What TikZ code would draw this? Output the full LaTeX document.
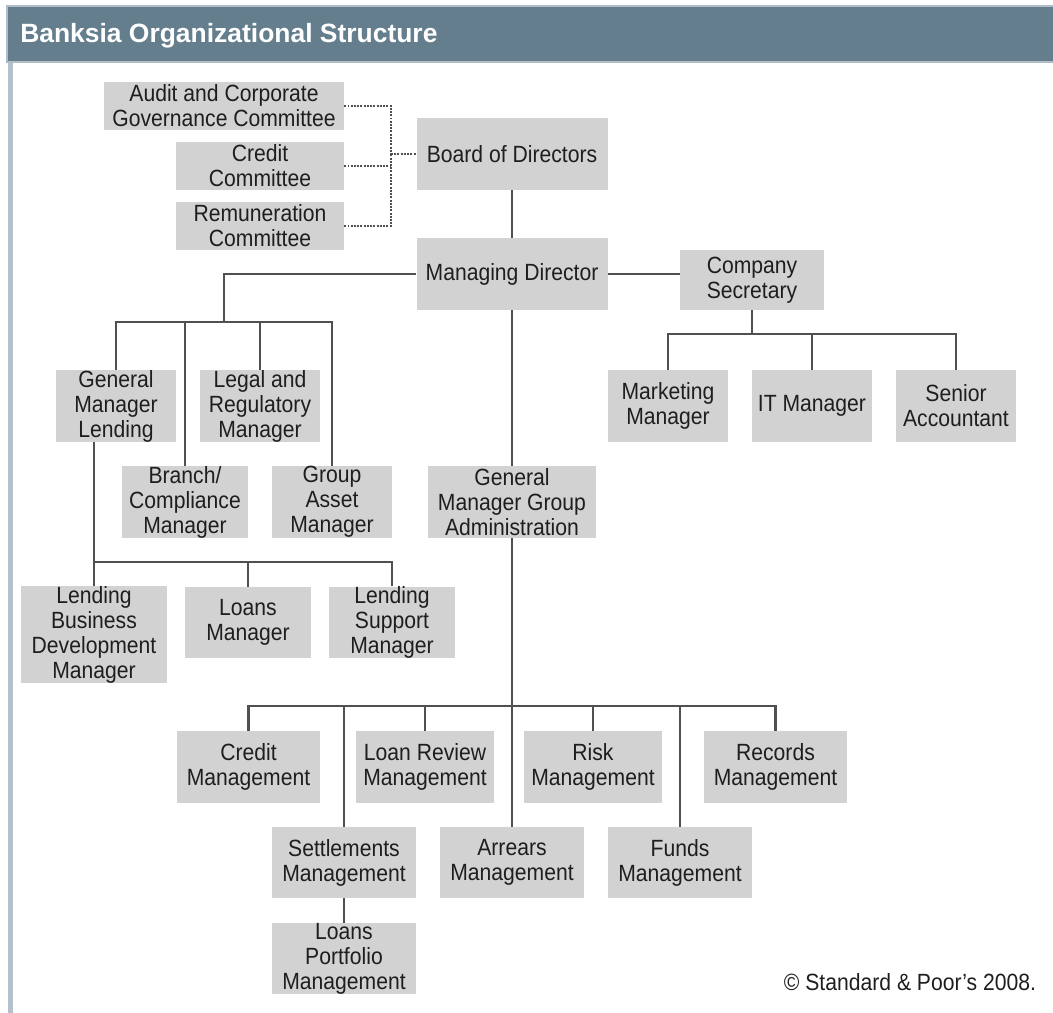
\documentclass[tikz,border=0pt]{standalone}
\usepackage{fontspec}
\setmainfont{Liberation Sans}[FakeStretch=0.9]
\newfontfamily\titlefont{Liberation Sans}
\usetikzlibrary{calc}

\definecolor{headerblue}{RGB}{100,126,142}
\definecolor{headeredge}{RGB}{176,188,198}
\definecolor{framegrey}{RGB}{180,192,204}
\definecolor{boxgrey}{RGB}{210,210,210}
\definecolor{linegrey}{RGB}{80,80,80}
\definecolor{textgrey}{RGB}{30,30,30}

\begin{document}
\begin{tikzpicture}[
    x=0.025cm,
    y=-0.025cm,
    unit/.style={
        fill=boxgrey,
        text=textgrey,
        inner sep=0pt,
        align=center,
        font=\fontsize{16.7}{17.8}\selectfont
    },
    box size/.style 2 args={
        minimum width=#1*0.025cm,
        minimum height=#2*0.025cm
    },
    link/.style={
        draw=linegrey,
        line width=1.8pt
    },
    committee link/.style={
        draw=linegrey,
        line width=1.8pt,
        dash pattern=on 1.4pt off 0.9pt
    },
    ]
    \useasboundingbox (0,0) rectangle (1053,1013);
    % heading and frame
    \fill[framegrey] (8,62) rectangle (12.7,1013);
    \filldraw[fill=headerblue, draw=headeredge, line width=1pt] (7,6) rectangle (1060,62);
    \node[anchor=base west, text=white, inner sep=0pt,
        font=\titlefont\bfseries\fontsize{18.8}{22}\selectfont] (title) at (20,42)
        {Banksia Organizational Structure};

    % board and committees
    \node[unit, box size={240}{48}] (audit) at (224,106) {Audit and Corporate\\Governance Committee};
    \node[unit, box size={168}{48}] (credit) at (260,166) {Credit\\Committee};
    \node[unit, box size={168}{48}] (remun) at (260,226) {Remuneration\\Committee};
    \node[unit, box size={191}{72}] (board) at (512,154) {Board of Directors};
    \node[unit, box size={191}{72}] (md) at (512,274) {Managing Director};
    \coordinate (cmtbus) at (391,154);

    % secretary branch
    \node[unit, box size={144}{60}] (cs) at (752,280) {Company\\Secretary};
    \node[unit, box size={120}{72}] (mkt) at (668,406) {Marketing\\Manager};
    \node[unit, box size={120}{72}] (itm) at (812,406) {IT Manager};
    \node[unit, box size={120}{72}] (sen) at (956,406) {Senior\\Accountant};
    \coordinate (secbus) at (752,334);

    % lending branch
    \node[unit, box size={120}{72}] (gml) at (116,406) {General\\Manager\\Lending};
    \node[unit, box size={120}{72}] (legal) at (260,406) {Legal and\\Regulatory\\Manager};
    \node[unit, box size={126}{72}] (branch) at (185,502) {Branch/\\Compliance\\Manager};
    \node[unit, box size={120}{72}] (gam) at (332,502) {Group\\Asset\\Manager};
    \node[unit, box size={146}{95}] (lbdm) at (94,634.5) {Lending\\Business\\Development\\Manager};
    \node[unit, box size={126}{71}] (loans) at (248,622.5) {Loans\\Manager};
    \node[unit, box size={126}{71}] (lsm) at (392,622.5) {Lending\\Support\\Manager};
    \coordinate (mdbus) at (224,322);
    \coordinate (lendbus) at (94,562);

    % administration branch
    \node[unit, box size={168}{72}] (gmga) at (512,502) {General\\Manager Group\\Administration};
    \node[unit, box size={143}{72}] (credm) at (248.5,767) {Credit\\Management};
    \node[unit, box size={138}{72}] (lrm) at (425,767) {Loan Review\\Management};
    \node[unit, box size={138}{72}] (risk) at (593,767) {Risk\\Management};
    \node[unit, box size={143}{72}] (recm) at (775.5,767) {Records\\Management};
    \node[unit, box size={144}{71}] (settle) at (344,862.5) {Settlements\\Management};
    \node[unit, box size={144}{71}] (arrears) at (512,862.5) {Arrears\\Management};
    \node[unit, box size={144}{71}] (funds) at (680,862.5) {Funds\\Management};
    \node[unit, box size={144}{71}] (lpm) at (344,958.5) {Loans\\Portfolio\\Management};
    \coordinate (adminbus) at (512,706);

    \node[anchor=center, inner sep=0pt, text=textgrey,
        font=\fontsize{16.7}{17.8}\selectfont] (copy) at (910,982)
        {\textcopyright{} Standard \& Poor's 2008.};

    % committee links
    \draw[committee link] (audit.east) -| (cmtbus);
    \draw[committee link] (remun.east) -| (cmtbus);
    \draw[committee link] (credit.east) -- (credit.east -| cmtbus);
    \draw[committee link] (cmtbus) -- (board.west);

    % reporting lines
    \draw[link] (board) -- (md);
    \draw[link] (md.east) -- (md.east -| cs.west);
    \draw[link] (cs.south) -- (secbus);
    \draw[link] (mkt.north) |- (secbus);
    \draw[link] (sen.north) |- (secbus);
    \draw[link] (itm.north) -- (itm.north |- secbus);

    \draw[link] (md.west) -| (mdbus);
    \draw[link] (gml.north) |- (mdbus);
    \draw[link] (gam.north) |- (mdbus);
    \draw[link] (branch.north) -- (branch.north |- mdbus);
    \draw[link] (legal.north) -- (legal.north |- mdbus);

    \draw[link] (gml.south -| lbdm.north) -- (lbdm.north);
    \draw[link] (lsm.north) |- (lendbus);
    \draw[link] (loans.north) -- (loans.north |- lendbus);

    \draw[link] (md) -- (gmga);
    \draw[link] (gmga) -- (arrears);
    \draw[link] (credm.north) |- (adminbus);
    \draw[link] (recm.north) |- (adminbus);
    \draw[link] (settle.north) -- (settle.north |- adminbus);
    \draw[link] (lrm.north) -- (lrm.north |- adminbus);
    \draw[link] (risk.north) -- (risk.north |- adminbus);
    \draw[link] (funds.north) -- (funds.north |- adminbus);
    \draw[link] (settle) -- (lpm);
\end{tikzpicture}
\end{document}
